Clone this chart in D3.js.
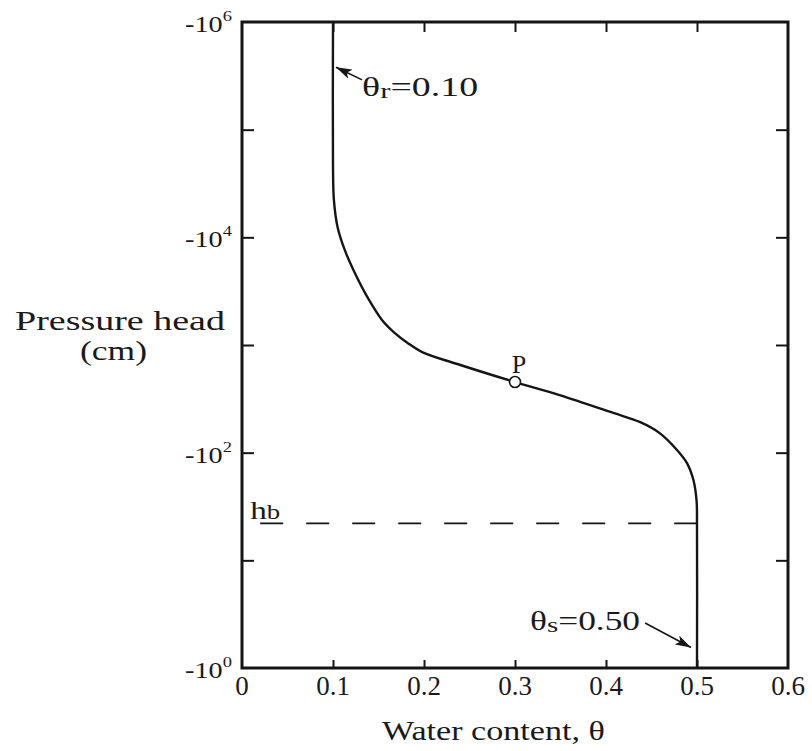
<!DOCTYPE html>
<html>
<head>
<meta charset="utf-8">
<script src="https://cdn.jsdelivr.net/npm/d3@7"></script>
<style>
  body { margin: 0; background: #fff; }
  text { font-family: "Liberation Serif", "Times New Roman", serif; fill: #1a1a1a; }
</style>
</head>
<body>
<svg id="chart" width="812" height="751"></svg>
<script>
// Water retention curve: water content θ against pressure head h (cm)
const thetaTicks = [0, 0.1, 0.2, 0.3, 0.4, 0.5, 0.6];
const thetaInnerTicks = [0.1, 0.2, 0.3, 0.4, 0.5];
const headDecades = [1e1, 1e2, 1e3, 1e4, 1e5];        // |h| of the inner tick marks
const headLabelExponents = [6, 4, 2, 0];              // labelled decades: -10^n

// Curve points, read along the line from the dry end to saturation
const curveTheta = [0.100, 0.100, 0.101, 0.105, 0.113, 0.124, 0.1396, 0.1538, 0.168, 0.182,
                    0.198, 0.240, 0.300, 0.349, 0.408, 0.437, 0.459, 0.478, 0.489, 0.496,
                    0.4995, 0.500, 0.500];
const curveHead  = [-1e6, -45000, -22200, -12500, -7600, -4670, -2620, -1710, -1290, -1045,
                    -860, -652, -453, -343, -234, -193, -152, -106, -80, -56,
                    -36, -22, -1];

const thetaR = 0.10;
const thetaS = 0.50;
const bubblingHead = -22;                // h_b
const pointP = { theta: 0.30, head: -453 };

const svg = d3.select("#chart");
const margin = { top: 22, right: 24, bottom: 83, left: 242 };
const W = 812, H = 751;

const x = d3.scaleLinear().domain([0, 0.6]).range([margin.left, W - margin.right]);
const y = d3.scaleLog().domain([1, 1e6]).range([H - margin.bottom, margin.top]);
const yh = h => y(-h);

const ink = "#151515";

// arrowhead marker
svg.append("defs").append("marker")
  .attr("id", "arrow")
  .attr("viewBox", "0 0 16 10")
  .attr("refX", 16).attr("refY", 5)
  .attr("markerWidth", 16).attr("markerHeight", 10)
  .attr("markerUnits", "userSpaceOnUse")
  .attr("orient", "auto")
  .append("path").attr("d", "M0,0 L16,5 L0,10 L4,5 Z").attr("fill", ink);

// helper: a text label stretched horizontally to a given width
function label(parent, x0, y0, anchor, size, parts, width) {
  const g = parent.append("g").attr("transform", `translate(${x0},${y0})`);
  const t = g.append("text").attr("text-anchor", anchor).attr("font-size", size);
  parts.forEach(p => {
    const s = t.append("tspan").text(p.text);
    if (p.size) s.attr("font-size", p.size);
    if (p.dy) s.attr("dy", p.dy);
  });
  if (width) {
    const w = t.node().getComputedTextLength();
    g.attr("transform", `translate(${x0},${y0}) scale(${width / w},1)`);
  }
  return g;
}

// inner tick marks on all four sides
const tickStyle = g => g.call(s => s.select(".domain").remove())
  .call(s => s.selectAll("line").attr("stroke", ink).attr("stroke-width", 2))
  .call(s => s.selectAll("text").remove());

svg.append("g").attr("transform", `translate(0,${y(1)})`)
  .call(d3.axisBottom(x).tickValues(thetaInnerTicks).tickSize(-8)).call(tickStyle);
svg.append("g").attr("transform", `translate(0,${y(1e6)})`)
  .call(d3.axisTop(x).tickValues(thetaInnerTicks).tickSize(-10)).call(tickStyle);
svg.append("g").attr("transform", `translate(${x(0)},0)`)
  .call(d3.axisLeft(y).tickValues(headDecades).tickSize(-12)).call(tickStyle);
svg.append("g").attr("transform", `translate(${x(0.6)},0)`)
  .call(d3.axisRight(y).tickValues(headDecades).tickSize(-12)).call(tickStyle);

// frame
svg.append("rect")
  .attr("x", x(0)).attr("y", y(1e6))
  .attr("width", x(0.6) - x(0)).attr("height", y(1) - y(1e6))
  .attr("fill", "none").attr("stroke", ink).attr("stroke-width", 3);

// x tick labels
svg.append("g").selectAll("text").data(thetaTicks).join("text")
  .attr("x", d => x(d)).attr("y", y(1) + 27)
  .attr("text-anchor", "middle").attr("font-size", 27)
  .text(d => d === 0 ? "0" : d3.format(".1f")(d));

// y tick labels  -10^n
headLabelExponents.forEach(n => {
  label(svg, x(0) - 10, y(Math.pow(10, n)) + 10, "end", 23,
    [{ text: "-10" }, { text: String(n), size: 15, dy: -11 }], 47);
});

// axis titles
label(svg, 382, 740, "start", 28, [{ text: "Water content, θ" }], 223);
label(svg, 15, 330, "start", 27, [{ text: "Pressure head" }], 210);
label(svg, 80, 360, "start", 27, [{ text: "(cm)" }], 67);

// bubbling pressure h_b
svg.append("line")
  .attr("x1", x(0.02)).attr("x2", x(thetaS))
  .attr("y1", yh(bubblingHead)).attr("y2", yh(bubblingHead))
  .attr("stroke", ink).attr("stroke-width", 1.8)
  .attr("stroke-dasharray", "23,23");
label(svg, x(0.009), yh(bubblingHead) - 4, "start", 26,
  [{ text: "h" }, { text: "b", size: 21 }], 30);

// retention curve
const curvePts = curveTheta.map((t, i) => ({ theta: t, head: curveHead[i] }));
svg.append("path")
  .datum(curvePts)
  .attr("fill", "none").attr("stroke", ink).attr("stroke-width", 2.4)
  .attr("d", d3.line().x(d => x(d.theta)).y(d => yh(d.head)).curve(d3.curveCatmullRom.alpha(0.5)));

// point P
svg.append("circle")
  .attr("cx", x(pointP.theta)).attr("cy", yh(pointP.head)).attr("r", 5.5)
  .attr("fill", "#fff").attr("stroke", ink).attr("stroke-width", 1.6);
label(svg, x(pointP.theta) + 4, yh(pointP.head) - 9, "middle", 26, [{ text: "P" }]);

// θr annotation
svg.append("line")
  .attr("x1", x(0.132)).attr("y1", yh(-2.9e5))
  .attr("x2", x(thetaR) + 3).attr("y2", yh(-3.8e5))
  .attr("stroke", ink).attr("stroke-width", 1.6).attr("marker-end", "url(#arrow)");
label(svg, x(0.132), yh(-2.06e5), "start", 27,
  [{ text: "θ" }, { text: "r", size: 22, dy: 2 }, { text: "=0.10", dy: -2 }], 116);

// θs annotation
svg.append("line")
  .attr("x1", x(0.443)).attr("y1", yh(-2.62))
  .attr("x2", x(thetaS) - 6).attr("y2", yh(-1.55))
  .attr("stroke", ink).attr("stroke-width", 1.6).attr("marker-end", "url(#arrow)");
label(svg, x(0.3165), yh(-2.25), "start", 27,
  [{ text: "θ" }, { text: "s", size: 22, dy: 2 }, { text: "=0.50", dy: -2 }], 110);
</script>
</body>
</html>
